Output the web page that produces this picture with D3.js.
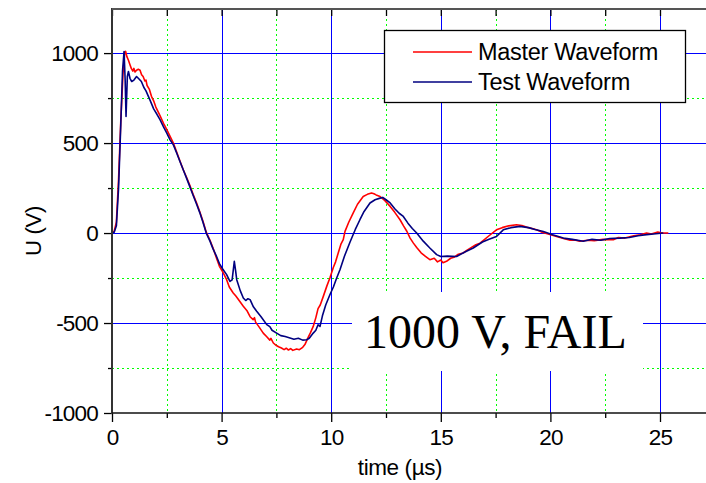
<!DOCTYPE html>
<html>
<head>
<meta charset="utf-8">
<script src="https://cdn.jsdelivr.net/npm/d3@7"></script>
<style>
  body { margin: 0; background: #fff; }
  svg { display: block; font-family: "Liberation Sans", Arial, sans-serif; }
</style>
</head>
<body>
<svg id="chart" width="706" height="483"></svg>
<script>
// master waveform (red), [time us, voltage V]
const masterWave = [
  [0,0],[0.1,10],[0.2,60],[0.3,300],[0.4,620],[0.5,880],[0.58,1005],[0.62,1010],[0.68,980],[0.75,960],
  [0.82,935],[0.88,915],[0.95,900],[1.0,915],[1.05,895],[1.12,905],[1.2,910],[1.28,905],[1.35,880],[1.42,870],
  [1.5,845],[1.55,850],[1.6,820],[1.7,800],[1.8,760],[1.9,735],[2.0,700],[2.1,675],[2.2,650],[2.35,610],
  [2.5,575],[2.65,537],[2.8,500],[2.95,450],[3.1,400],[3.25,352],[3.4,310],[3.55,265],[3.7,215],[3.86,167],
  [4.0,120],[4.15,65],[4.3,5],[4.47,-40],[4.6,-80],[4.77,-140],[4.9,-185],[5.05,-215],[5.23,-259],[5.35,-300],
  [5.53,-333],[5.65,-350],[5.8,-375],[5.99,-407],[6.15,-430],[6.3,-465],[6.44,-481],[6.5,-470],[6.55,-495],[6.7,-520],
  [6.9,-556],[7.05,-575],[7.2,-595],[7.25,-585],[7.36,-611],[7.5,-625],[7.6,-632],[7.73,-639],[7.85,-648],[7.95,-640],
  [8.05,-650],[8.15,-642],[8.25,-652],[8.42,-644],[8.55,-648],[8.7,-635],[8.8,-620],[8.95,-580],[9.05,-555],[9.18,-519],
  [9.3,-470],[9.4,-420],[9.5,-400],[9.64,-352],[9.8,-295],[9.94,-250],[10.1,-190],[10.2,-160],[10.32,-111],[10.45,-60],
  [10.55,-37],[10.63,9],[10.8,60],[11.0,111],[11.2,160],[11.46,203],[11.65,215],[11.84,222],[11.95,218],[12.05,212],
  [12.23,203],[12.45,180],[12.69,148],[12.9,115],[13.14,74],[13.3,40],[13.45,10],[13.6,-28],[13.75,-56],[13.9,-80],
  [14.1,-110],[14.3,-130],[14.5,-148],[14.7,-140],[14.85,-160],[15.0,-150],[15.1,-165],[15.26,-157],[15.45,-140],[15.6,-135],
  [15.8,-118],[16.02,-111],[16.2,-95],[16.4,-80],[16.6,-65],[16.79,-56],[17.0,-35],[17.2,-15],[17.54,18],[17.8,30],
  [18.1,40],[18.45,46],[18.7,42],[19.0,30],[19.37,18],[19.6,5],[19.9,-5],[20.28,-19],[20.6,-30],[20.9,-40],
  [21.1,-38],[21.35,-46],[21.7,-40],[22.0,-42],[22.4,-35],[22.87,-37],[23.1,-25],[23.4,-28],[23.8,-15],[24.1,-10],
  [24.39,0],[24.6,-5],[24.9,5],[25.1,0],[25.38,0]
];

// test waveform (navy)
const testWave = [
  [0,0],[0.1,5],[0.2,40],[0.3,250],[0.4,600],[0.48,900],[0.55,1009],[0.6,850],[0.64,648],[0.7,870],
  [0.75,898],[0.82,860],[0.9,842],[1.0,850],[1.12,870],[1.2,860],[1.34,842],[1.45,810],[1.55,790],[1.73,740],
  [1.9,690],[2.05,660],[2.19,630],[2.35,590],[2.5,555],[2.65,518],[2.8,490],[2.95,445],[3.1,398],[3.25,352],
  [3.4,305],[3.55,258],[3.7,210],[3.86,160],[4.0,115],[4.15,60],[4.3,0],[4.47,-45],[4.6,-85],[4.77,-130],
  [4.9,-170],[5.05,-200],[5.23,-231],[5.38,-269],[5.48,-260],[5.58,-157],[5.64,-210],[5.69,-259],[5.85,-320],[5.99,-361],
  [6.1,-375],[6.2,-365],[6.3,-370],[6.45,-410],[6.6,-435],[6.8,-465],[7.06,-509],[7.2,-520],[7.3,-540],[7.51,-556],
  [7.7,-570],[7.9,-575],[8.12,-583],[8.3,-590],[8.5,-585],[8.7,-595],[8.88,-593],[9.0,-585],[9.18,-556],[9.3,-540],
  [9.4,-510],[9.49,-519],[9.6,-460],[9.75,-400],[9.94,-343],[10.1,-300],[10.25,-250],[10.4,-204],[10.6,-130],[10.86,-50],
  [11.1,20],[11.31,74],[11.5,120],[11.77,167],[12.0,185],[12.23,194],[12.35,198],[12.5,185],[12.69,167],[12.9,135],
  [13.1,110],[13.29,92],[13.5,55],[13.7,25],[13.9,0],[14.2,-45],[14.5,-83],[14.81,-120],[15.0,-130],[15.3,-128],
  [15.72,-130],[16.1,-105],[16.48,-83],[16.9,-50],[17.2,-35],[17.54,-19],[17.85,18],[18.2,30],[18.61,37],[19.0,30],
  [19.3,20],[19.68,9],[20.1,-10],[20.59,-28],[21.0,-35],[21.5,-46],[21.9,-35],[22.3,-40],[22.7,-30],[23.18,-28],
  [23.6,-25],[24.0,-15],[24.39,-9],[24.7,-5],[25.15,0]
];

const xMajor = [0, 5, 10, 15, 20, 25];
const xMinor = [2.5, 7.5, 12.5, 17.5, 22.5];
const yMajor = [-1000, -500, 0, 500, 1000];
const yMinor = [-750, -250, 250, 750];
const legendItems = [
  { name: "Master Waveform", color: "#ff0000" },
  { name: "Test Waveform", color: "#000080" }
];

const svg = d3.select("#chart");
const W = 706, H = 483;
const plotLeft = 112, plotTop = 9, plotBottom = 413;

const x = d3.scaleLinear().domain([0, 27.2]).range([plotLeft, plotLeft + 27.2 * 21.92]);
const y = d3.scaleLinear().domain([-1000, 1245]).range([plotBottom, plotTop]);

svg.append("clipPath").attr("id", "plot")
  .append("rect").attr("x", plotLeft).attr("y", plotTop)
  .attr("width", W - plotLeft).attr("height", plotBottom - plotTop);

const grid = svg.append("g").attr("clip-path", "url(#plot)");

// minor dotted grid
grid.selectAll(".vmin").data(xMinor).join("line")
  .attr("x1", d => Math.round(x(d)) + 0.5).attr("x2", d => Math.round(x(d)) + 0.5)
  .attr("y1", plotTop).attr("y2", plotBottom)
  .attr("stroke", "#00ff00").attr("stroke-dasharray", "2,3");
grid.selectAll(".hmin").data(yMinor).join("line")
  .attr("y1", d => Math.round(y(d)) + 0.5).attr("y2", d => Math.round(y(d)) + 0.5)
  .attr("x1", plotLeft).attr("x2", W)
  .attr("stroke", "#00ff00").attr("stroke-dasharray", "2,3");

// major grid
grid.selectAll(".vmaj").data(xMajor.slice(1)).join("line")
  .attr("x1", d => Math.round(x(d)) + 0.5).attr("x2", d => Math.round(x(d)) + 0.5)
  .attr("y1", plotTop).attr("y2", plotBottom)
  .attr("stroke", "#0000ff");
grid.selectAll(".hmaj").data(yMajor.slice(1)).join("line")
  .attr("y1", d => Math.round(y(d)) + 0.5).attr("y2", d => Math.round(y(d)) + 0.5)
  .attr("x1", plotLeft).attr("x2", W)
  .attr("stroke", "#0000ff");

// white box behind the label
svg.append("rect")
  .attr("x", 352).attr("y", 292).attr("width", 291).attr("height", 79)
  .attr("fill", "#fff");

// legend box
const legend = svg.append("g");
legend.append("rect")
  .attr("x", 384.5).attr("y", 30.5).attr("width", 301).attr("height", 72)
  .attr("fill", "#fff").attr("stroke", "#000").attr("stroke-width", 1.3);
legendItems.forEach((d, i) => {
  const ly = 52 + i * 30;
  legend.append("line")
    .attr("x1", 413).attr("x2", 472).attr("y1", ly).attr("y2", ly)
    .attr("stroke", d.color).attr("stroke-width", 1.5);
  legend.append("text")
    .attr("x", 478).attr("y", ly + 8)
    .attr("font-size", 23.5).attr("letter-spacing", -0.3)
    .text(d.name);
});

// waveforms
const line = d3.line().x(d => x(d[0])).y(d => y(d[1]));
svg.append("path").datum(masterWave)
  .attr("d", line).attr("fill", "none")
  .attr("stroke", "#ff0000").attr("stroke-width", 1.6).attr("stroke-linejoin", "round");
svg.append("path").datum(testWave)
  .attr("d", line).attr("fill", "none")
  .attr("stroke", "#000080").attr("stroke-width", 1.6).attr("stroke-linejoin", "round");

// axes
const fmt = d => String(d);
svg.append("g").attr("transform", `translate(0,${plotBottom})`)
  .call(d3.axisBottom(x).tickValues(xMajor).tickSize(9).tickPadding(7).tickFormat(fmt));
svg.append("g").attr("transform", `translate(0,${plotBottom})`)
  .call(d3.axisBottom(x).tickValues(xMinor).tickSize(5).tickFormat(""));
svg.append("g").attr("transform", `translate(${plotLeft},0)`)
  .call(d3.axisLeft(y).tickValues(yMajor).tickSize(8).tickPadding(6).tickFormat(fmt));
svg.append("g").attr("transform", `translate(${plotLeft},0)`)
  .call(d3.axisLeft(y).tickValues(yMinor).tickSize(4).tickFormat(""));
svg.append("g").attr("transform", `translate(0,${plotTop})`)
  .call(d3.axisTop(x).tickValues(xMajor.concat(xMinor)).tickSize(-7).tickFormat(""));

svg.selectAll(".domain").remove();
svg.selectAll(".tick line").attr("stroke", "#000").attr("stroke-width", 1.3);
svg.selectAll(".tick text")
  .attr("font-family", "'Liberation Sans', Arial, sans-serif")
  .attr("font-size", 22.5).attr("letter-spacing", -0.8).attr("fill", "#000");

// axis lines
svg.append("line").attr("x1", plotLeft).attr("x2", plotLeft).attr("y1", plotTop - 1).attr("y2", plotBottom + 1)
  .attr("stroke", "#333").attr("stroke-width", 2);
svg.append("line").attr("x1", plotLeft).attr("x2", W).attr("y1", plotTop).attr("y2", plotTop)
  .attr("stroke", "#555").attr("stroke-width", 2);
svg.append("line").attr("x1", plotLeft).attr("x2", W).attr("y1", plotBottom).attr("y2", plotBottom)
  .attr("stroke", "#111").attr("stroke-width", 1.6);

// titles
svg.append("text")
  .attr("transform", "translate(41,231) rotate(-90)")
  .attr("text-anchor", "middle").attr("font-size", 22).attr("letter-spacing", -0.3)
  .text("U (V)");
svg.append("text")
  .attr("x", 400).attr("y", 475)
  .attr("text-anchor", "middle").attr("font-size", 22.5).attr("letter-spacing", -0.4)
  .text("time (µs)");

svg.append("text")
  .attr("x", 364).attr("y", 348)
  .attr("font-family", "'Liberation Serif', 'Times New Roman', serif")
  .attr("font-size", 48)
  .text("1000 V, FAIL");
</script>
</body>
</html>
